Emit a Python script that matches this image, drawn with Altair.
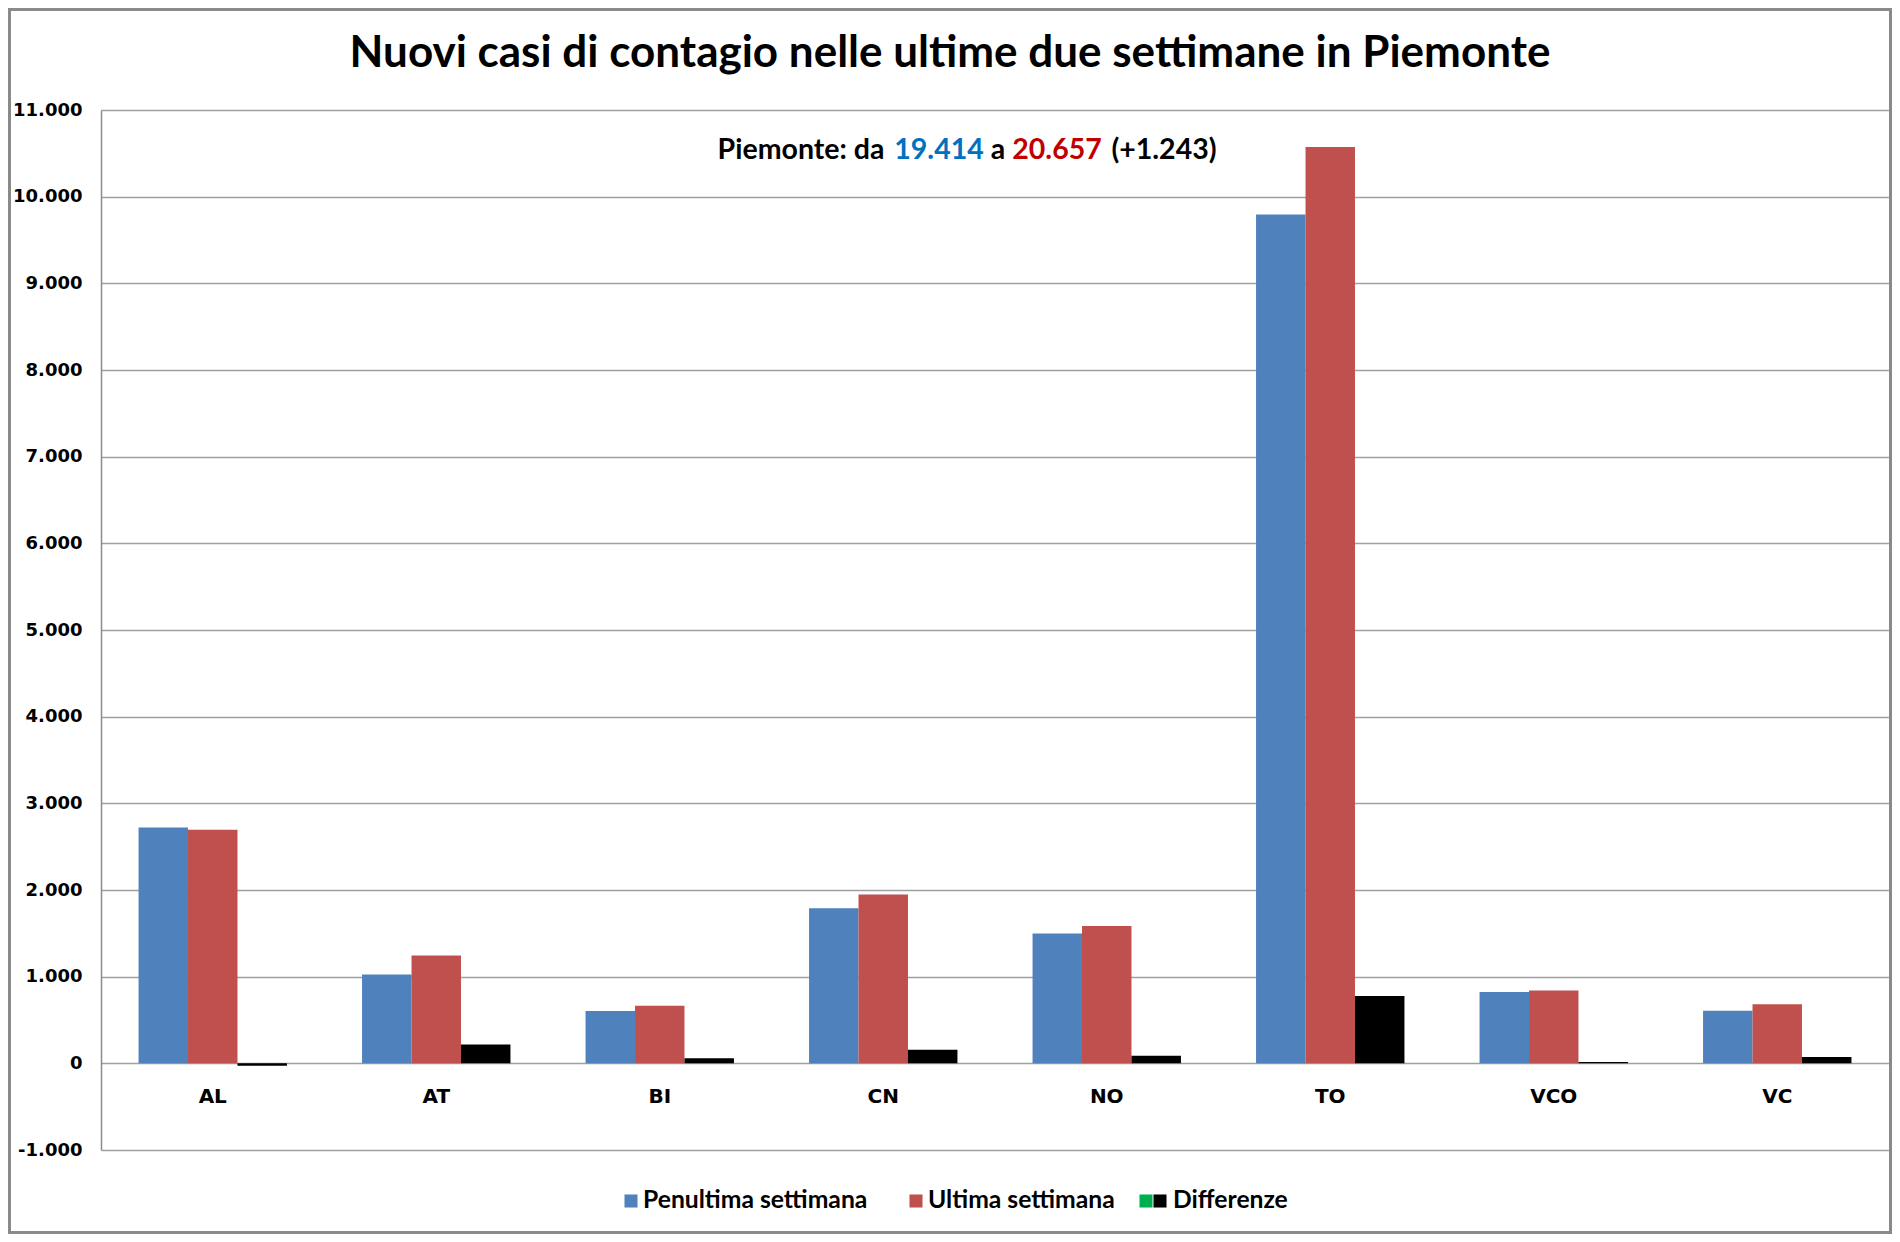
import altair as alt
import pandas as pd

provinces = ["AL", "AT", "BI", "CN", "NO", "TO", "VCO", "VC"]
penultima = [2721, 1025, 605, 1789, 1497, 9795, 823, 608]
ultima = [2694, 1243, 665, 1947, 1585, 10573, 839, 681]
differenze = [-27, 218, 60, 158, 88, 778, 16, 73]
series = ["Penultima settimana", "Ultima settimana", "Differenze"]
series_colors = ["#4F81BD", "#C0504D", "#000000"]
y_ticks = list(range(-1000, 12000, 1000))
title_text = "Nuovi casi di contagio nelle ultime due settimane in Piemonte"
note_parts = ["Piemonte: da", "19.414", "a", "20.657", "(+1.243)"]
note_colors = ["#000000", "#0070C0", "#000000", "#C00000", "#000000"]

rows = []
for i, p in enumerate(provinces):
    for s, vals in zip(series, [penultima, ultima, differenze]):
        rows.append({"prov": p, "series": s, "value": vals[i]})
df = pd.DataFrame(rows)

W, H = 1788, 1040
PL, PT, PR, PB = 93, 102, 3, 84
CAL = "Lato"
VER = "DejaVu Sans"

label_expr = ("datum.value < 0 ? '-' + replace(format(-datum.value, ','), ',', '.') "
              ": replace(format(datum.value, ','), ',', '.')")

bars = alt.Chart(df).mark_bar().encode(
    x=alt.X("prov:N", sort=provinces,
            scale=alt.Scale(paddingInner=0.336, paddingOuter=0.168),
            axis=alt.Axis(title=None, labelAngle=0, ticks=False, domain=False,
                          labelFont=VER, labelFontWeight="bold", labelFontSize=20,
                          labelColor="#000000", offset=-86.67, labelPadding=33,
                          labelBaseline="middle")),
    xOffset=alt.XOffset("series:N", sort=series, scale=alt.Scale(domain=series)),
    y=alt.Y("value:Q", scale=alt.Scale(domain=[-1000, 11000], nice=False, zero=False),
            axis=alt.Axis(values=y_ticks, title=None, ticks=False, grid=True,
                          gridColor="#a0a0a0", gridWidth=1.5,
                          domainColor="#8c8c8c", domainWidth=1.5,
                          labelFont=VER, labelFontWeight="bold", labelFontSize=18,
                          labelColor="#000000", labelPadding=19, labelExpr=label_expr)),
    color=alt.Color("series:N", scale=alt.Scale(domain=series, range=series_colors), legend=None),
)

one = pd.DataFrame({"a": [0]})

border = alt.Chart(one).mark_rect(filled=False, stroke="#8a8a8a", strokeWidth=3).encode(
    x=alt.value(-PL + 1.5), x2=alt.value(W + PR - 1.5),
    y=alt.value(-PT + 1.5), y2=alt.value(H + PB - 1.5),
)

title = alt.Chart(pd.DataFrame({"t": [title_text]})).mark_text(
    font=CAL, fontWeight="bold", fontSize=44, color="#000000",
    align="center", baseline="middle",
).encode(text="t:N", x=alt.value(849), y=alt.value(-56))

note_x = [700, 838, 897, 956, 1063]
notes = []
for txt, col, xx in zip(note_parts, note_colors, note_x):
    notes.append(alt.Chart(pd.DataFrame({"t": [txt]})).mark_text(
        font=CAL, fontWeight="bold", fontSize=28.5, color=col,
        align="center", baseline="middle",
    ).encode(text="t:N", x=alt.value(xx), y=alt.value(40)))

leg_sq_x = [530, 815, 1059]
leg_txt_x = [542, 827, 1072]
legend_layers = []
for s, col, sx, tx in zip(series, series_colors, leg_sq_x, leg_txt_x):
    legend_layers.append(alt.Chart(pd.DataFrame({"t": [s]})).mark_square(
        size=170, color=col, opacity=1).encode(x=alt.value(sx), y=alt.value(1091)))
    legend_layers.append(alt.Chart(pd.DataFrame({"t": [s]})).mark_text(
        font=CAL, fontWeight="bold", fontSize=24.7, color="#000000",
        align="left", baseline="middle",
    ).encode(text="t:N", x=alt.value(tx), y=alt.value(1091)))
legend_layers.append(alt.Chart(one).mark_square(size=170, color="#00B050", opacity=1).encode(
    x=alt.value(1045), y=alt.value(1091)))

chart = alt.layer(border, bars, title, *notes, *legend_layers).properties(
    width=W, height=H,
    padding={"left": PL, "top": PT, "right": PR, "bottom": PB},
    autosize=alt.AutoSizeParams(type="none"),
).configure_view(strokeWidth=0).configure(background="white")

chart.save("out.html", embed_options={"renderer": "svg", "actions": False})
